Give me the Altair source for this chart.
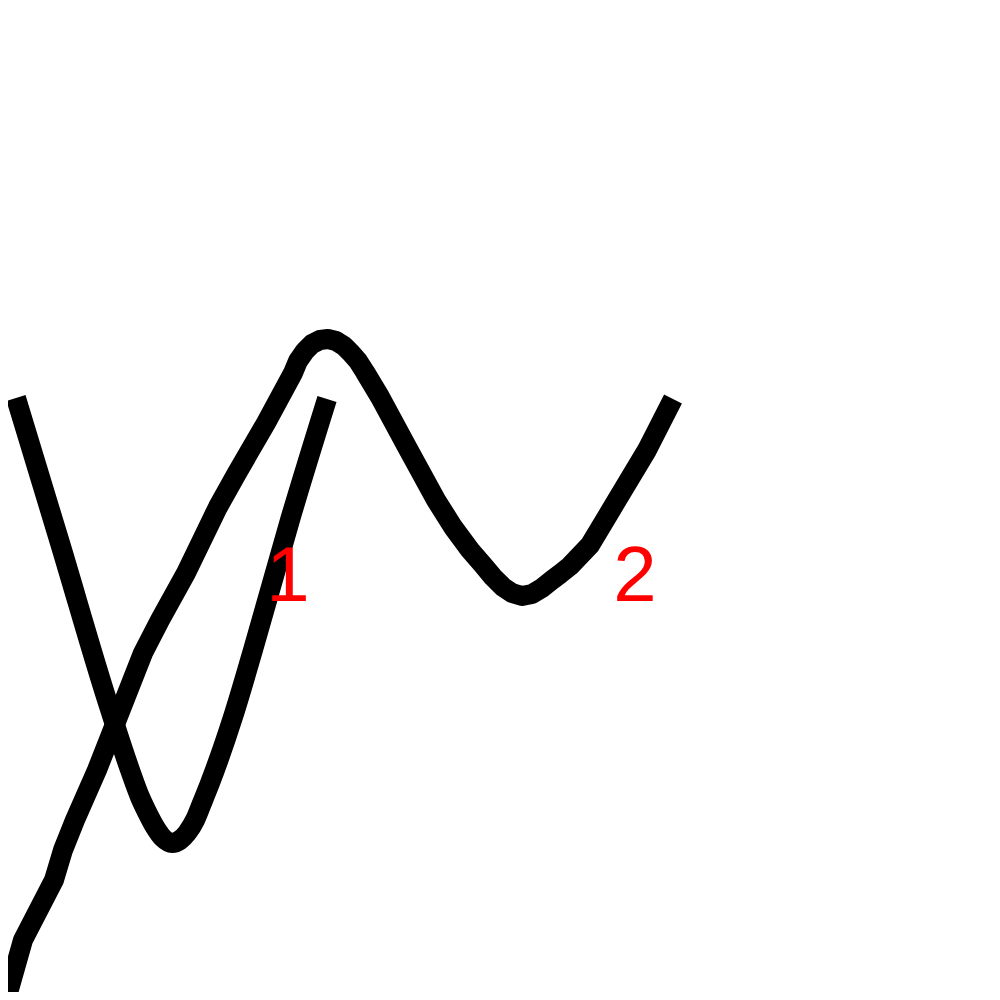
import altair as alt
import pandas as pd

# Curve 1 (V-shaped stroke), picture coordinates
c1_x = [16, 60, 107, 130, 140, 147, 155, 163, 172, 180, 187, 195, 202, 210, 233, 253, 290, 327]
c1_y = [398, 543, 700, 770, 797, 812, 827, 838, 843, 840, 833, 820, 803, 783, 717, 650, 520, 399]

# Curve 2 (rising stroke with a hump and a dip)
c2_x = [3, 6, 23, 54, 63, 75, 97, 143, 160, 186, 202, 218, 237, 266, 293, 298, 305, 312, 320,
        328, 336, 344, 351, 358, 365, 380, 407, 436, 453, 470, 483, 493, 503, 512, 522, 532,
        542, 552, 560, 570, 590, 611, 647, 673]
c2_y = [1012, 1000, 940, 880, 850, 820, 770, 653, 620, 573, 540, 507, 473, 423, 373, 361,
        351, 344, 340, 339, 341, 346, 353, 361, 372, 397, 447, 500, 527, 550, 565, 577, 587,
        593, 596, 594, 588, 580, 574, 566, 545, 510, 450, 399]

labels = ["1", "2"]
label_x = [288, 635]
label_y = [601, 601]

OFF = 8   # page margin
W = 984   # drawing size so that the page is exactly 1000 px


def to_df(xs, ys):
    return pd.DataFrame({
        "x": [v - OFF for v in xs],
        "y": [W + OFF - v for v in ys],
        "i": list(range(len(xs))),
    })


d1 = to_df(c1_x, c1_y)
d2 = to_df(c2_x, c2_y)
dl = pd.DataFrame({
    "x": [v - OFF for v in label_x],
    "y": [W + OFF - v for v in label_y],
    "t": labels,
})

xs = alt.Scale(domain=[0, W], range=[0, W], nice=False, zero=False)
ys = alt.Scale(domain=[0, W], range=[W, 0], nice=False, zero=False)

X = alt.X("x:Q", scale=xs, axis=None)
Y = alt.Y("y:Q", scale=ys, axis=None)

SW = 20
line1 = alt.Chart(d1).mark_line(color="black", strokeWidth=SW, strokeCap="butt",
                                strokeJoin="round", interpolate="monotone").encode(
    x=X, y=Y, order="i:Q")
line2 = alt.Chart(d2).mark_line(color="black", strokeWidth=SW, strokeCap="butt",
                                strokeJoin="round").encode(
    x=X, y=Y, order="i:Q")
text = alt.Chart(dl).mark_text(color="red", fontSize=78, font="Liberation Sans",
                               align="center", baseline="alphabetic").encode(
    x=X, y=Y, text="t:N")

chart = alt.layer(line1, line2, text).properties(
    width=W, height=W, padding=0, autosize=alt.AutoSizeParams(type="none"),
).configure_view(stroke=None)

chart.save("out.html", embed_options={"renderer": "svg", "actions": False})
